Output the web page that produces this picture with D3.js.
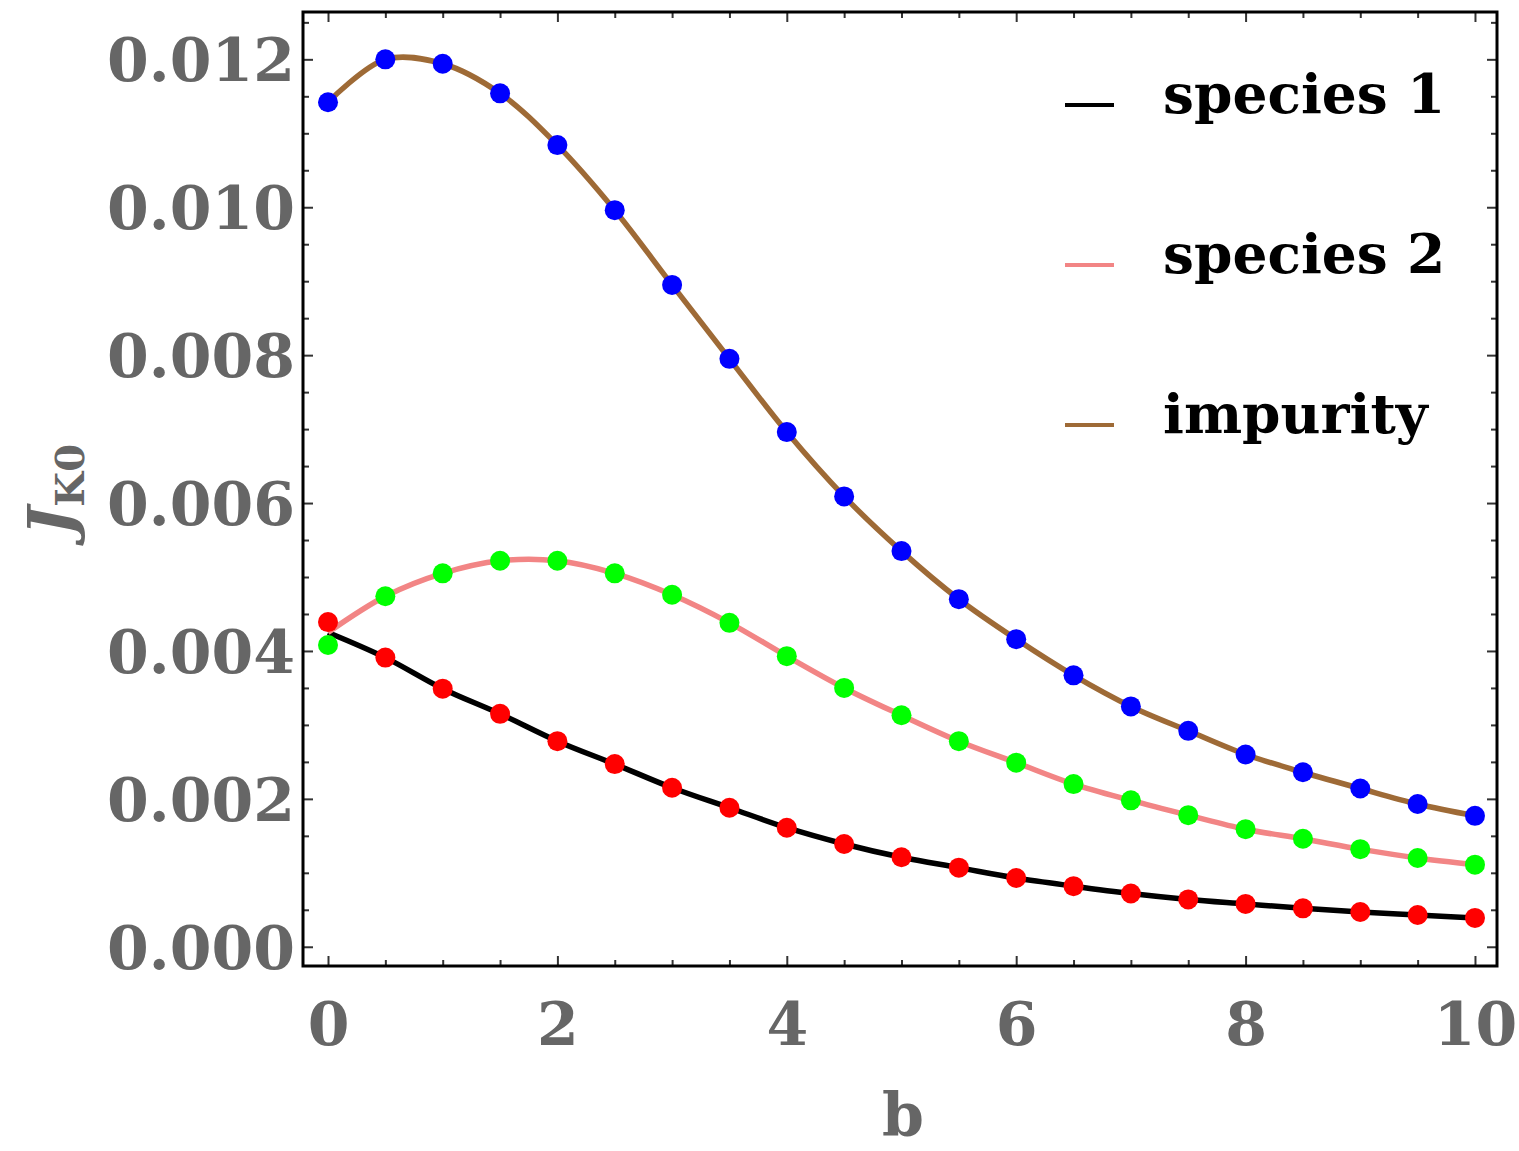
<!DOCTYPE html>
<html>
<head>
<meta charset="utf-8">
<script src="https://cdn.jsdelivr.net/npm/d3@7"></script>
<style>
  body { margin: 0; background: #fff; }
  svg { display: block; }
  .tick text { font-family: "DejaVu Serif", serif; font-weight: bold; fill: #666; }
</style>
</head>
<body>
<svg id="chart" width="1519" height="1151"></svg>
<script>
// valeurs (b de 0 à 10 par pas de 0.5)
const bValues = [0, 0.5, 1, 1.5, 2, 2.5, 3, 3.5, 4, 4.5, 5, 5.5, 6, 6.5, 7, 7.5, 8, 8.5, 9, 9.5, 10];

// points (marqueurs)
const species1Points = [0.00439, 0.00391, 0.00349, 0.00315, 0.00278, 0.00247, 0.00215, 0.00188, 0.00161, 0.00139, 0.00121, 0.00107, 0.00093, 0.00082, 0.00072, 0.00064, 0.00058, 0.00052, 0.00047, 0.00043, 0.00039];
const species2Points = [0.00408, 0.00474, 0.00505, 0.00522, 0.00522, 0.00505, 0.00476, 0.00438, 0.00393, 0.00350, 0.00313, 0.00278, 0.00249, 0.00220, 0.00198, 0.00178, 0.00159, 0.00146, 0.00132, 0.00120, 0.00111];
const impurityPoints = [0.01142, 0.01200, 0.01194, 0.01154, 0.01084, 0.00996, 0.00895, 0.00795, 0.00696, 0.00609, 0.00535, 0.00470, 0.00416, 0.00367, 0.00325, 0.00292, 0.00260, 0.00236, 0.00214, 0.00193, 0.00177];

// courbes (les deux espèces partent du même point en b = 0)
const species1Line = [0.00425, 0.00391, 0.00349, 0.00315, 0.00278, 0.00247, 0.00215, 0.00188, 0.00161, 0.00139, 0.00121, 0.00107, 0.00093, 0.00082, 0.00072, 0.00064, 0.00058, 0.00052, 0.00047, 0.00043, 0.00039];
const species2Line = [0.00425, 0.00474, 0.00505, 0.00522, 0.00522, 0.00505, 0.00476, 0.00438, 0.00393, 0.00350, 0.00313, 0.00278, 0.00249, 0.00220, 0.00198, 0.00178, 0.00159, 0.00146, 0.00132, 0.00120, 0.00111];
const impurityLine = [0.01142, 0.01200, 0.01194, 0.01154, 0.01084, 0.00996, 0.00895, 0.00795, 0.00696, 0.00609, 0.00535, 0.00470, 0.00416, 0.00367, 0.00325, 0.00292, 0.00260, 0.00236, 0.00214, 0.00193, 0.00177];

const xTicks = [0, 2, 4, 6, 8, 10];
const yTicks = [0, 0.002, 0.004, 0.006, 0.008, 0.010, 0.012];
const legendLabels = ["species 1", "species 2", "impurity"];

const margin = { top: 12, left: 303 },
    width = 1194,
    height = 954;

const svg = d3.select("#chart");
const g = svg.append("g").attr("transform", "translate(" + margin.left + "," + margin.top + ")");

const x = d3.scaleLinear().domain([-0.218, 10.192]).range([0, width]);
const y = d3.scaleLinear().domain([-0.00026, 0.01264]).range([height, 0]);

const xMinor = d3.range(0, 10.01, 0.5).filter(v => v % 2 !== 0);
const yMinor = d3.range(0, 0.0126, 0.0005).filter(v => Math.abs(v / 0.002 - Math.round(v / 0.002)) > 1e-6);

//Axes (graduations vers l'intérieur, sur les quatre côtés)
function styleAxis(sel) {
    sel.select(".domain").remove();
    sel.selectAll(".tick line").attr("stroke", "#333").attr("stroke-width", 2);
}

g.append("g").attr("transform", "translate(0," + height + ")")
    .call(d3.axisBottom(x).tickValues(xTicks).tickSize(-10).tickPadding(36).tickFormat(d3.format("d")))
    .call(styleAxis)
    .selectAll("text").style("font-size", "60px");
g.append("g").attr("transform", "translate(0," + height + ")")
    .call(d3.axisBottom(x).tickValues(xMinor).tickSize(-6).tickFormat(""))
    .call(styleAxis);
g.append("g")
    .call(d3.axisTop(x).tickValues(xTicks).tickSize(-10).tickFormat(""))
    .call(styleAxis);
g.append("g")
    .call(d3.axisTop(x).tickValues(xMinor).tickSize(-6).tickFormat(""))
    .call(styleAxis);

g.append("g")
    .call(d3.axisLeft(y).tickValues(yTicks).tickSize(-10).tickPadding(8).tickFormat(d3.format(".3f")))
    .call(styleAxis)
    .selectAll("text").style("font-size", "60px").attr("dy", "0.36em");
g.append("g")
    .call(d3.axisLeft(y).tickValues(yMinor).tickSize(-6).tickFormat(""))
    .call(styleAxis);
g.append("g").attr("transform", "translate(" + width + ",0)")
    .call(d3.axisRight(y).tickValues(yTicks).tickSize(-10).tickFormat(""))
    .call(styleAxis);
g.append("g").attr("transform", "translate(" + width + ",0)")
    .call(d3.axisRight(y).tickValues(yMinor).tickSize(-6).tickFormat(""))
    .call(styleAxis);

// cadre
g.append("rect")
    .attr("x", 0).attr("y", 0)
    .attr("width", width).attr("height", height)
    .attr("fill", "none").attr("stroke", "#000").attr("stroke-width", 3);

//Courbes
const line = d3.line()
    .x((d, i) => x(bValues[i]))
    .y(d => y(d))
    .curve(d3.curveCatmullRom.alpha(0.5));

const series = [
    { line: species1Line, points: species1Points, stroke: "#000000", fill: "#ff0000" },
    { line: species2Line, points: species2Points, stroke: "#f28585", fill: "#00ff00" },
    { line: impurityLine, points: impurityPoints, stroke: "#9e6a36", fill: "#0000ff" }
];

series.forEach(s => {
    g.append("path")
        .attr("d", line(s.line))
        .attr("fill", "none")
        .attr("stroke", s.stroke)
        .attr("stroke-width", 5.5);
});

series.forEach(s => {
    g.append("g").selectAll("circle")
        .data(s.points)
        .enter()
        .append("circle")
        .attr("cx", (d, i) => x(bValues[i]))
        .attr("cy", d => y(d))
        .attr("r", 10)
        .style("fill", s.fill);
});

//Légende
const legend = svg.append("g");
legendLabels.forEach((lab, i) => {
    const yy = 105 + i * 160;
    legend.append("line")
        .attr("x1", 1065).attr("x2", 1114)
        .attr("y1", yy).attr("y2", yy)
        .attr("stroke", series[i].stroke)
        .attr("stroke-width", 4);
    legend.append("text")
        .attr("x", 1163).attr("y", yy + 8)
        .style("font-family", "DejaVu Serif, serif")
        .style("font-weight", "bold")
        .style("font-size", "55px")
        .style("fill", "#000")
        .text(lab);
});

// titres des axes
svg.append("text")
    .attr("x", 903).attr("y", 1136)
    .attr("text-anchor", "middle")
    .style("font-family", "DejaVu Serif, serif")
    .style("font-weight", "bold")
    .style("font-size", "60px")
    .style("fill", "#666")
    .text("b");

const ylab = svg.append("text")
    .attr("transform", "translate(72,490) rotate(-90)")
    .attr("text-anchor", "middle")
    .style("font-family", "DejaVu Serif, serif")
    .style("font-weight", "bold")
    .style("fill", "#666");
ylab.append("tspan")
    .style("font-style", "italic")
    .style("font-size", "62px")
    .text("J");
ylab.append("tspan")
    .attr("dy", 12)
    .style("font-size", "40px")
    .text("K0");
</script>
</body>
</html>
